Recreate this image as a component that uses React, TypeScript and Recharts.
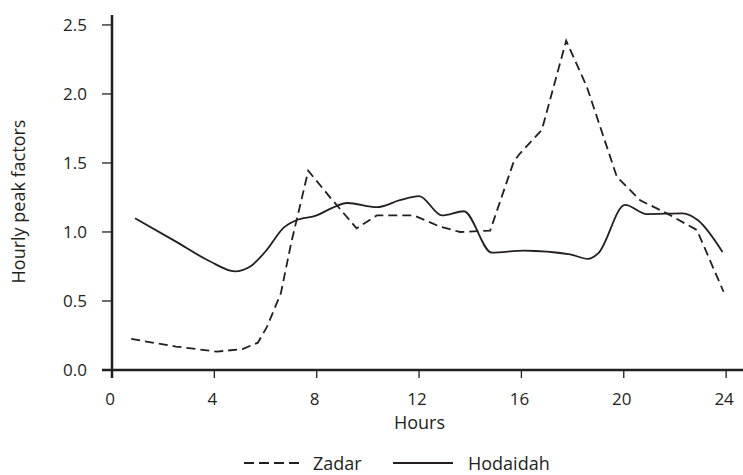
import React from 'react';
import { LineChart, Line, XAxis, YAxis, Legend, Label } from 'recharts';

// ---- data ----
const zadarHours = [0.75, 2.5, 4.1, 5.1, 5.7, 6.05, 6.6, 7.0, 7.4, 7.67, 8.5, 9.56, 10.35, 11.8, 12.8, 13.6, 14.78, 15.7, 15.95, 16.8, 17.75, 18.56, 19.73, 20.64, 21.68, 22.86, 23.9];
const zadarValues = [0.225, 0.17, 0.133, 0.152, 0.198, 0.31, 0.556, 0.918, 1.23, 1.444, 1.256, 1.026, 1.12, 1.12, 1.04, 1.0, 1.01, 1.51, 1.57, 1.74, 2.386, 2.05, 1.4, 1.23, 1.135, 1.014, 0.567];

const hodaidahHours = [0.9, 2.5, 3.8, 4.8, 5.4, 6.05, 6.7, 7.2, 8.0, 8.5, 9.2, 10.35, 11.25, 12.0, 12.9, 13.75, 14.84, 16.1, 17.9, 18.6, 19.0, 20.05, 20.9, 22.3, 22.9, 23.86];
const hodaidahValues = [1.1, 0.93, 0.79, 0.715, 0.75, 0.87, 1.03, 1.085, 1.12, 1.165, 1.21, 1.18, 1.23, 1.26, 1.12, 1.15, 0.85, 0.865, 0.838, 0.805, 0.845, 1.196, 1.13, 1.135, 1.085, 0.855];

const xTicks = [0, 4, 8, 12, 16, 20, 24];
const yTicks = [0, 0.5, 1, 1.5, 2, 2.5];
const yTickLabels = ['0.0', '0.5', '1.0', '1.5', '2.0', '2.5'];
const seriesNames = ['Zadar', 'Hodaidah'];
const xTitle = 'Hours';
const yTitle = 'Hourly peak factors';

const zadarData = zadarHours.map((h, i) => ({ hour: h, value: zadarValues[i] }));
const hodaidahData = hodaidahHours.map((h, i) => ({ hour: h, value: hodaidahValues[i] }));

// ---- styles ----
const INK = '#231f20';
const FONT = '"Open Sans", sans-serif';
const W = 743;
const H = 475;
const TICK_SIZE_X = 8;
const TICK_MARGIN_X = 15;
const TICK_SIZE_Y = 10;
const TICK_MARGIN_Y = 15;

const XTick = (props: any) => {
  const { x, y, payload } = props;
  const axisY = y - TICK_SIZE_X - TICK_MARGIN_X;
  const isOrigin = payload.value === 0;
  return (
    <g>
      <line x1={x} x2={x} y1={axisY} y2={axisY + TICK_SIZE_X} stroke={INK} strokeWidth={isOrigin ? 2.5 : 1.3} />
      <text x={x - 2} y={y} dy="0.71em" textAnchor="middle" fill={INK} fontFamily={FONT} fontSize={17}>
        {payload.value}
      </text>
    </g>
  );
};

const YTick = (props: any) => {
  const { x, y, payload } = props;
  const axisX = x + TICK_SIZE_Y + TICK_MARGIN_Y;
  const isOrigin = payload.value === 0;
  const idx = yTicks.indexOf(payload.value);
  return (
    <g>
      <line x1={axisX - TICK_SIZE_Y} x2={axisX} y1={y} y2={y} stroke={INK} strokeWidth={isOrigin ? 2.5 : 1.3} />
      <text x={x} y={y} dy="0.35em" textAnchor="end" fill={INK} fontFamily={FONT} fontSize={17}>
        {idx >= 0 ? yTickLabels[idx] : payload.value}
      </text>
    </g>
  );
};

const XTitle = (props: any) => {
  const vb = props.viewBox || {};
  return (
    <text x={vb.x + vb.width / 2 - 8} y={vb.y + 59} textAnchor="middle" fill={INK} fontFamily={FONT} fontSize={18}>
      {xTitle}
    </text>
  );
};

const YTitle = (props: any) => {
  const vb = props.viewBox || {};
  const cx = vb.x + 25;
  const cy = vb.y + vb.height / 2 + 9;
  return (
    <text x={cx} y={cy} transform={`rotate(-90, ${cx}, ${cy})`} textAnchor="middle" fill={INK} fontFamily={FONT} fontSize={18}>
      {yTitle}
    </text>
  );
};

const renderLegend = () => (
  <svg width={W} height={30} style={{ display: 'block' }}>
    <line x1={244} x2={302} y1={18} y2={18} stroke={INK} strokeWidth={1.8} strokeDasharray="10 5" />
    <text x={313} y={25} fill={INK} fontFamily={FONT} fontSize={18}>{seriesNames[0]}</text>
    <line x1={393} x2={453} y1={18} y2={18} stroke={INK} strokeWidth={1.8} />
    <text x={468} y={25} fill={INK} fontFamily={FONT} fontSize={18}>{seriesNames[1]}</text>
  </svg>
);

export default function App() {
  return (
    <div style={{ position: 'absolute', left: 0, top: 0, width: W, height: H, background: '#fff', fontFamily: FONT }}>
      <LineChart width={W} height={H} margin={{ top: 15, right: 0, bottom: 0, left: 0 }}>
        <XAxis
          type="number"
          dataKey="hour"
          domain={[0, 24.66]}
          ticks={xTicks}
          allowDataOverflow
          height={75}
          axisLine={{ stroke: INK, strokeWidth: 2.5 }}
          tickLine={false}
          tickSize={TICK_SIZE_X}
          tickMargin={TICK_MARGIN_X}
          tick={<XTick />}
          interval={0}
        >
          <Label content={<XTitle />} />
        </XAxis>
        <YAxis
          type="number"
          domain={[0, 2.572]}
          ticks={yTicks}
          allowDataOverflow
          width={112}
          axisLine={{ stroke: INK, strokeWidth: 2.5 }}
          tickLine={false}
          tickSize={TICK_SIZE_Y}
          tickMargin={TICK_MARGIN_Y}
          tick={<YTick />}
          interval={0}
        >
          <Label content={<YTitle />} />
        </YAxis>
        <Legend verticalAlign="bottom" height={30} content={renderLegend} wrapperStyle={{ left: 0, width: W }} />
        <Line
          data={zadarData}
          dataKey="value"
          name={seriesNames[0]}
          type="linear"
          stroke={INK}
          strokeWidth={1.8}
          strokeDasharray="9 5"
          dot={false}
          activeDot={false}
          isAnimationActive={false}
        />
        <Line
          data={hodaidahData}
          dataKey="value"
          name={seriesNames[1]}
          type="monotone"
          stroke={INK}
          strokeWidth={1.8}
          dot={false}
          activeDot={false}
          isAnimationActive={false}
        />
      </LineChart>
    </div>
  );
}
